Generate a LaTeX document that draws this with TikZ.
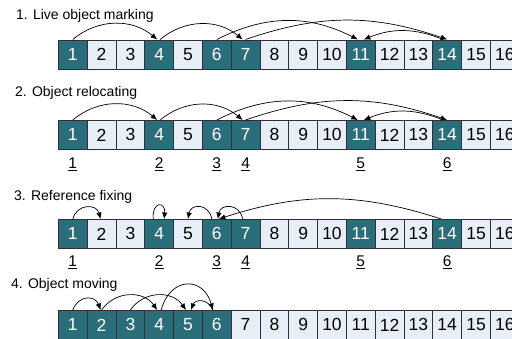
\documentclass[tikz,border=0pt]{standalone}
\usepackage{fontspec}
\setmainfont{Liberation Sans}
\usetikzlibrary{arrows.meta}
\definecolor{livefill}{HTML}{2A6E7B}
\definecolor{freefill}{HTML}{E8EEF8}
\definecolor{celledge}{HTML}{303030}

\begin{document}
\begin{tikzpicture}[x=1pt,y=-1pt,
  cell/.style={draw=celledge, line width=0.8pt, minimum width=28.8pt,
    minimum height=29pt, inner sep=0pt, anchor=north west,
    font=\fontsize{17.5}{17.5}\selectfont},
  livecell/.style={cell, fill=livefill, text=white},
  freecell/.style={cell, fill=freefill, text=black},
  title/.style={anchor=west, inner sep=0pt, font=\fontsize{14}{14}\selectfont},
  newaddr/.style={inner sep=0pt, font=\fontsize{15.5}{15.5}\selectfont},
  ref/.style={-{Latex[length=6.5pt,width=5.5pt]}, line width=0.7pt}]

\useasboundingbox (0,0) rectangle (512,338);
\clip (0,0) rectangle (512,338);

% heap rows 1-3: live objects at 1,4,6,7,11,14
\foreach \r/\top in {1/39.5, 2/120, 3/219} {
  \foreach \i in {1,4,6,7,11,14}
    \node[livecell] (r\r-\i) at ({58+28.8*(\i-1)},\top) {\i};
  \foreach \i in {2,3,5,8,9,10,12,13,15,16}
    \node[freecell] (r\r-\i) at ({58+28.8*(\i-1)},\top) {\i};
}
% heap row 4: compacted
\foreach \i in {1,...,6}
  \node[livecell] (r4-\i) at ({58+28.8*(\i-1)},310) {\i};
\foreach \i in {7,...,16}
  \node[freecell] (r4-\i) at ({58+28.8*(\i-1)},310) {\i};

% titles
\node[title] (t1) at (16,16) {1. Live object marking};
\node[title] (t2) at (15,93) {2. Object relocating};
\node[title] (t3) at (14,197) {3. Reference fixing};
\node[title] (t4) at (11,285) {4. Object moving};

% new addresses
\foreach \c/\n in {1/1,4/2,6/3,7/4,11/5,14/6} {
  \node[newaddr] (a2-\n) at ([yshift=-14.5pt]r2-\c.south) {\underline{\n}};
  \node[newaddr] (a3-\n) at ([yshift=-13.5pt]r3-\c.south) {\underline{\n}};
}

% references (rows 1 and 2)
\foreach \r in {1,2} {
  \draw[ref] (r\r-1.north) to[bend left=40] ([xshift=-2pt]r\r-4.north);
  \draw[ref] ([xshift=1pt]r\r-4.north) to[bend left=40] ([xshift=-3pt]r\r-7.north);
  \draw[ref] (r\r-6.north) to[bend left=27] ([xshift=-3pt]r\r-11.north);
  \draw[ref] (r\r-7.north) to[bend left=19] (r\r-14.north);
  \draw[ref] ([xshift=-4pt]r\r-14.north) to[bend right=22] ([xshift=3pt]r\r-11.north);
}

% row 3: fixed references
\draw[ref] (r3-1.north) to[out=75,in=105,distance=16] ([xshift=-1pt]r3-2.north);
\draw[ref] ([xshift=-6pt]r3-4.north) to[out=95,in=85,distance=18] ([xshift=5pt]r3-4.north);
\draw[ref] ([xshift=-5pt]r3-6.north) to[out=100,in=80,distance=16] (r3-5.north);
\draw[ref] ([xshift=-3pt]r3-7.north) to[out=100,in=80,distance=16] ([xshift=1pt]r3-6.north);
\draw[ref] ([xshift=-6pt]r3-14.north) to[bend right=18] ([xshift=2pt]r3-6.north);

% row 4: references after moving
\draw[ref] (r4-1.north) to[out=70,in=110,distance=16] ([xshift=-1pt]r4-2.north);
\draw[ref] (r4-2.north) to[out=55,in=125,distance=24] ([xshift=-2pt]r4-4.north);
\draw[ref] (r4-3.north) to[out=55,in=125,distance=24] ([xshift=-2pt]r4-5.north);
\draw[ref] ([xshift=2pt]r4-4.north) to[out=75,in=105,distance=35] ([xshift=-4pt]r4-6.north);
\draw[ref] ([xshift=-4pt]r4-6.north) to[out=110,in=70,distance=12] ([xshift=3pt]r4-5.north);
\end{tikzpicture}
\end{document}
